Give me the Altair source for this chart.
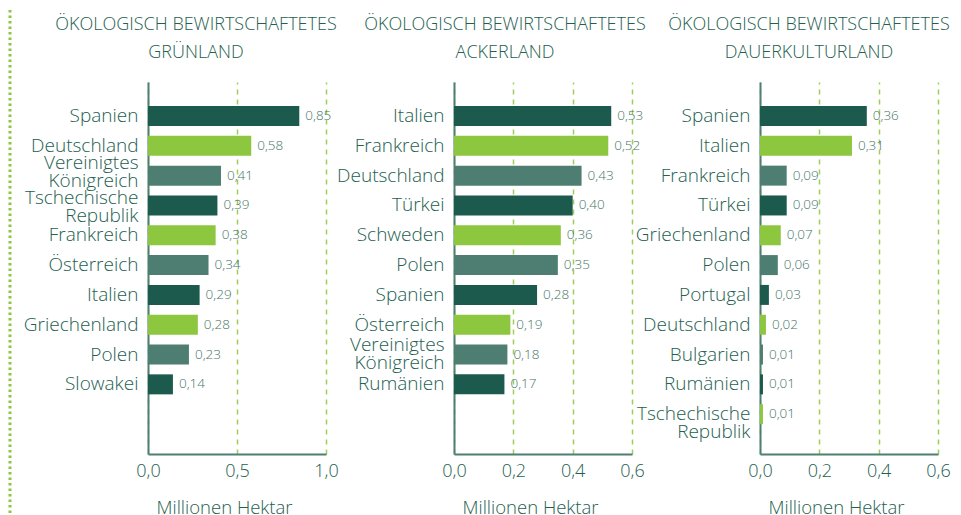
import altair as alt
import pandas as pd

# ---- data ----
gr_countries = ["Spanien", "Deutschland", "Vereinigtes Königreich", "Tschechische Republik",
                "Frankreich", "Österreich", "Italien", "Griechenland", "Polen", "Slowakei"]
gr_values = [0.85, 0.58, 0.41, 0.39, 0.38, 0.34, 0.29, 0.28, 0.23, 0.14]

ack_countries = ["Italien", "Frankreich", "Deutschland", "Türkei", "Schweden", "Polen",
                 "Spanien", "Österreich", "Vereinigtes Königreich", "Rumänien"]
ack_values = [0.53, 0.52, 0.43, 0.40, 0.36, 0.35, 0.28, 0.19, 0.18, 0.17]

dk_countries = ["Spanien", "Italien", "Frankreich", "Türkei", "Griechenland", "Polen",
                "Portugal", "Deutschland", "Bulgarien", "Rumänien", "Tschechische Republik"]
dk_values = [0.36, 0.31, 0.09, 0.09, 0.07, 0.06, 0.03, 0.02, 0.01, 0.01, 0.01]

title_line1 = "ÖKOLOGISCH BEWIRTSCHAFTETES"
title_line2 = ["GRÜNLAND", "ACKERLAND", "DAUERKULTURLAND"]
x_max = [1.0, 0.6, 0.6]
x_ticks = [[0.0, 0.5, 1.0], [0.0, 0.2, 0.4, 0.6], [0.0, 0.2, 0.4, 0.6]]
axis_title = "Millionen Hektar"

# ---- style ----
FONT = "Open Sans"
TEXT = "#23604f"
VAL_TEXT = "#477668"
AXIS = "#4f7f73"
GRID = "#9fcd5a"
BAR_COLORS = ["#1c5a4d", "#8dc63f", "#4e7e71"]

W, H = 178, 372
SLOTS = 12
STEP = 328.0 / (SLOTS - 1)
PI = 1 - 20.0 / STEP
PO = 24.0 / (2 * STEP)


def panel(countries, values, sub, xmax, ticks, title_dx, offsets):
    df = pd.DataFrame({"land": countries, "wert": values})
    df["pos"] = range(len(df))
    blanks = [" " * (k + 1) for k in range(SLOTS - len(countries))]
    domain = countries + blanks

    base = alt.Chart(df).transform_calculate(
        grp="datum.pos % 3",
        lab="replace(format(datum.wert, '.2f'), '.', ',')",
    )

    conds = [{"test": f"datum.label === '{name}'", "value": off} for name, off in offsets.items()]
    label_offset = {"condition": conds, "value": 0} if conds else 0

    y = alt.Y(
        "land:N",
        sort=domain,
        scale=alt.Scale(domain=domain, paddingInner=PI, paddingOuter=PO, align=1),
        axis=alt.Axis(
            title=None,
            labelExpr="split(datum.label, ' ')",
            labelFont=FONT,
            labelFontSize=19,
            labelFontWeight=300,
            labelColor=TEXT,
            labelLineHeight=18,
            labelPadding=10,
            labelOffset=label_offset,
            ticks=False,
            domainColor=AXIS,
            domainWidth=2,
            labelLimit=300,
        ),
    )
    x = alt.X(
        "wert:Q",
        scale=alt.Scale(domain=[0, xmax], nice=False, zero=True),
        axis=alt.Axis(
            values=ticks,
            labelExpr="replace(format(datum.value, '.1f'), '.', ',')",
            title=axis_title,
            titleFont=FONT,
            titleFontSize=18.5,
            titleFontWeight=300,
            titleColor=TEXT,
            titleX=76,
            titleAlign="center",
            titlePadding=18,
            labelFont=FONT,
            labelFontSize=18,
            labelFontWeight=300,
            labelColor=TEXT,
            labelPadding=8,
            ticks=False,
            grid=True,
            gridDash=[5, 5],
            gridColor=GRID,
            gridWidth=1.5,
            domainColor=AXIS,
            domainWidth=2,
            labelFlush=False,
        ),
    )

    bars = base.mark_bar().encode(
        x=x,
        y=y,
        color=alt.Color("grp:O", scale=alt.Scale(domain=[0, 1, 2], range=BAR_COLORS), legend=None),
    )
    texts = base.mark_text(align="left", baseline="middle", dx=6, font=FONT,
                           fontSize=13.5, fontWeight=300, color=VAL_TEXT).encode(
        x="wert:Q", y=alt.Y("land:N", sort=domain), text="lab:N"
    )

    return alt.layer(bars, texts).properties(
        width=W,
        height=H,
        title=alt.TitleParams(
            text=title_line1,
            subtitle=sub,
            font=FONT,
            fontSize=18,
            fontWeight=300,
            color=TEXT,
            subtitleFont=FONT,
            subtitleFontSize=18,
            subtitleFontWeight=300,
            subtitleColor=TEXT,
            subtitlePadding=10,
            anchor="middle",
            frame="group",
            dx=title_dx,
            offset=20,
        ),
    )


# dotted decorative separator on the far left
p0 = alt.Chart(alt.Data(values=[{"a": 0}])).mark_rule(
    color="#8dc63f", strokeWidth=3, strokeDash=[2.5, 3], strokeCap="butt"
).encode(x=alt.value(0), y=alt.value(-72), y2=alt.value(436)).properties(width=10, height=H)

p1 = panel(gr_countries, gr_values, title_line2[0], x_max[0], x_ticks[0], -41,
           {"Vereinigtes Königreich": -13, "Tschechische Republik": -7})
p2 = panel(ack_countries, ack_values, title_line2[1], x_max[1], x_ticks[1], -38,
           {"Vereinigtes Königreich": -10})
p3 = panel(dk_countries, dk_values, title_line2[2], x_max[2], x_ticks[2], -40, {})

chart = alt.hconcat(p0, p1, p2, p3, spacing=128, bounds="flush").resolve_scale(
    x="independent", y="independent", color="independent"
).properties(padding=0).configure_view(stroke=None)

chart.save("out.html", embed_options={"renderer": "svg", "actions": False})
